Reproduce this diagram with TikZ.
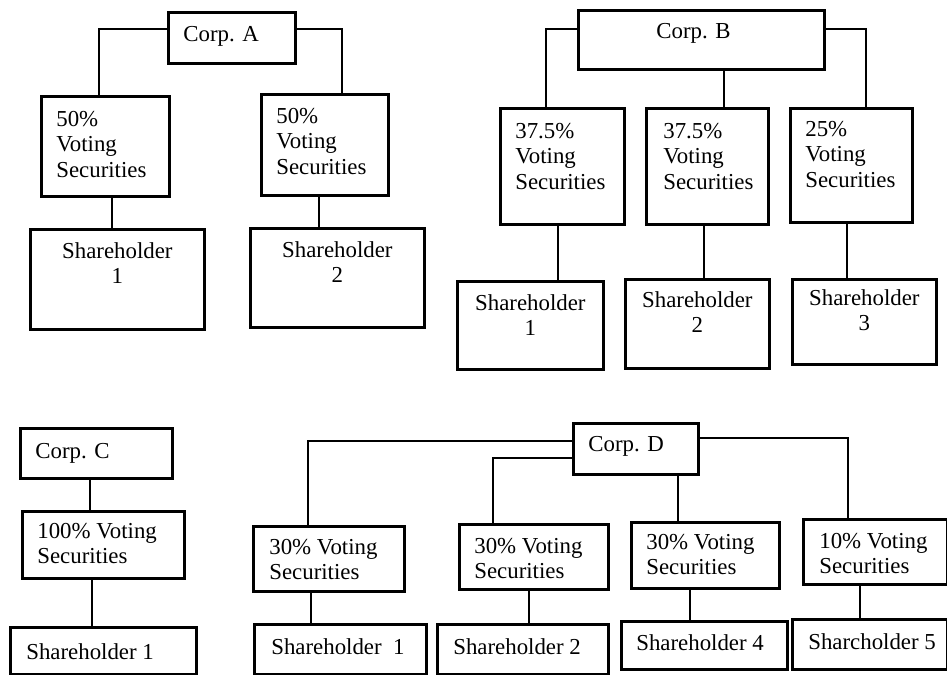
\documentclass[tikz,border=0pt]{standalone}
\usepackage{fontspec}
\setmainfont{Liberation Serif}
\usepackage{tikz}
\newdimen\pxu
\pxu=0.03cm
% box text: width, height, left indent, top gap, text
\newcommand{\cell}[5]{\parbox[c][#2\pxu][t]{#1\pxu}{\vspace*{#4\pxu}\raggedright\leftskip=#3\pxu\relax#5}}
\newcommand{\cellc}[4]{\parbox[c][#2\pxu][t]{#1\pxu}{\vspace*{#3\pxu}\centering#4}}

\begin{document}
\begin{tikzpicture}[x=0.03cm,y=-0.03cm]
  \tikzset{
    cell/.style={draw=black,line width=2.3pt,anchor=north west,inner sep=0pt,
      font=\fontsize{19.5}{21.7}\selectfont},
    link/.style={draw=black,line width=1.9pt},
  }
  \useasboundingbox (0,0) rectangle (947,675);

  \node[cell] (corpA) at (167,11) {\cell{127}{51}{15}{14}{Corp. A}};
  \node[cell] (a50l) at (40,95) {\cell{128}{100}{15}{15}{50\%\\Voting\\Securities}};
  \node[cell] (a50r) at (260,93) {\cell{127}{101}{15}{14}{50\%\\Voting\\Securities}};
  \node[cell] (ash1) at (29,228) {\cellc{174}{100}{13}{Shareholder\\1}};
  \node[cell] (ash2) at (249,227) {\cellc{174}{99}{13}{Shareholder\\2}};

  \node[cell] (corpB) at (577,9) {\cell{246}{59}{78}{13}{Corp. B}};
  \node[cell] (b375l) at (499,107) {\cell{124}{116}{15}{15}{37.5\%\\Voting\\Securities}};
  \node[cell] (b375m) at (645,107) {\cell{122}{116}{17}{15}{37.5\%\\Voting\\Securities}};
  \node[cell] (b25) at (789,107) {\cell{122}{114}{15}{13}{25\%\\Voting\\Securities}};
  \node[cell] (bsh1) at (456,280) {\cellc{146}{88}{13}{Shareholder\\1}};
  \node[cell] (bsh2) at (624,278) {\cellc{144}{89}{12}{Shareholder\\2}};
  \node[cell] (bsh3) at (791,278) {\cellc{144}{85}{10}{Shareholder\\3}};

  \node[cell] (corpC) at (19,427) {\cell{152}{50}{15}{15}{Corp. C}};
  \node[cell] (c100) at (21,510) {\cell{162}{67}{15}{12}{100\% Voting\\Securities}};
  \node[cell] (csh1) at (9,626) {\cell{186}{47}{16}{16}{Shareholder 1}};

  \node[cell] (corpD) at (572,422) {\cell{125}{51}{15}{13}{Corp. D}};
  \node[cell] (d30a) at (252,525) {\cell{151}{65}{16}{13}{30\% Voting\\Securities}};
  \node[cell] (d30b) at (458,523) {\cell{149}{65}{15}{14}{30\% Voting\\Securities}};
  \node[cell] (d30c) at (630,521) {\cell{148}{66}{15}{12}{30\% Voting\\Securities}};
  \node[cell] (d10) at (802,518) {\cell{144}{65}{16}{14}{10\% Voting\\Securities}};
  \node[cell] (dsh1) at (253,623) {\cell{172}{50}{17}{14}{Shareholder\ \ 1}};
  \node[cell] (dsh2) at (436,623) {\cell{171}{50}{16}{14}{Shareholder 2}};
  \node[cell] (dsh4) at (620,620) {\cell{166}{48}{15}{13}{Shareholder 4}};
  \node[cell] (dsh5) at (791,618) {\cell{155}{50}{16}{14}{Sharcholder 5}};

  \draw[link] ([shift={(0,-8.5)}]corpA.west) -| ([shift={(-6,0)}]a50l.north);
  \draw[link] ([shift={(0,-8.5)}]corpA.east) -| ([shift={(17.5,0)}]a50r.north);
  \draw[link] ([shift={(7,0)}]a50l.south) -- ([shift={(7,0)}]a50l.south |- ash1.north);
  \draw[link] ([shift={(-5.5,0)}]a50r.south) -- ([shift={(-5.5,0)}]a50r.south |- ash2.north);

  \draw[link] ([shift={(0,-10.5)}]corpB.west) -| ([shift={(-16,0)}]b375l.north);
  \draw[link] ([shift={(23,0)}]corpB.south) -- ([shift={(23,0)}]corpB.south |- b375m.north);
  \draw[link] ([shift={(0,-10.5)}]corpB.east) -| ([shift={(15,0)}]b25.north);
  \draw[link] ([shift={(-4,0)}]b375l.south) -- ([shift={(-4,0)}]b375l.south |- bsh1.north);
  \draw[link] ([shift={(-3,0)}]b375m.south) -- ([shift={(-3,0)}]b375m.south |- bsh2.north);
  \draw[link] ([shift={(-4,0)}]b25.south) -- ([shift={(-4,0)}]b25.south |- bsh3.north);

  \draw[link] ([shift={(-6,0)}]corpC.south) -- ([shift={(-6,0)}]corpC.south |- c100.north);
  \draw[link] ([shift={(-11,0)}]c100.south) -- ([shift={(-11,0)}]c100.south |- csh1.north);

  \draw[link] ([shift={(0,-7.5)}]corpD.west) -| ([shift={(-20.5,0)}]d30a.north);
  \draw[link] ([shift={(0,9.5)}]corpD.west) -| ([shift={(-40.5,0)}]d30b.north);
  \draw[link] ([shift={(42.5,0)}]corpD.south) -- ([shift={(42.5,0)}]corpD.south |- d30c.north);
  \draw[link] ([shift={(0,-10.5)}]corpD.east) -| ([shift={(-27,0)}]d10.north);
  \draw[link] ([shift={(-17.5,0)}]d30a.south) -- ([shift={(-17.5,0)}]d30a.south |- dsh1.north);
  \draw[link] ([shift={(-4.5,0)}]d30b.south) -- ([shift={(-4.5,0)}]d30b.south |- dsh2.north);
  \draw[link] ([shift={(-15,0)}]d30c.south) -- ([shift={(-15,0)}]d30c.south |- dsh4.north);
  \draw[link] ([shift={(-15,0)}]d10.south) -- ([shift={(-15,0)}]d10.south |- dsh5.north);
\end{tikzpicture}
\end{document}
